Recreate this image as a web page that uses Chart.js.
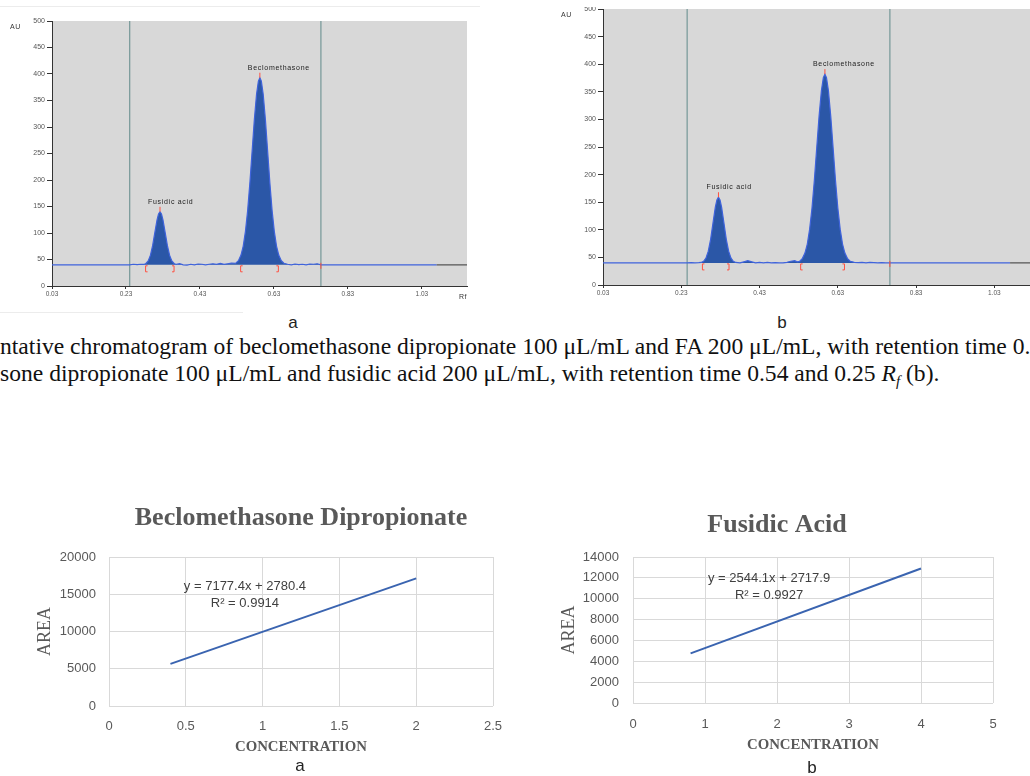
<!DOCTYPE html>
<html>
<head>
<meta charset="utf-8">
<script src="https://cdn.jsdelivr.net/npm/chart.js@4.4.1/dist/chart.umd.min.js"></script>
<style>
  body { margin: 0; width: 1030px; height: 776px; overflow: hidden; background: #fff; position: relative; font-family: "Liberation Sans", Arial, sans-serif; }
  .box { position: absolute; }
  .lbl { position: absolute; font-size: 17px; color: #222; transform: translate(-50%, -50%); }
  .cap { position: absolute; left: 0; white-space: nowrap; font-family: "Liberation Serif", "Times New Roman", serif; font-size: 23.6px; color: #111; transform: translateY(-50%); }
  .rule { position: absolute; height: 1px; background: #ececec; }
</style>
</head>
<body>
<div class="rule" style="left:0;top:6px;width:480px"></div>
<div class="rule" style="left:0;top:312px;width:243px"></div>

<div class="box" style="left:0;top:0;width:480px;height:305px"><canvas id="chromA"></canvas></div>
<div class="box" style="left:540px;top:7px;width:490px;height:298px;overflow:hidden">
  <div class="box" style="left:0;top:-7px;width:490px;height:305px"><canvas id="chromB"></canvas></div>
</div>

<div class="lbl" style="left:293px;top:323px">a</div>
<div class="lbl" style="left:782px;top:323px">b</div>
<div class="cap" style="top:346px">ntative chromatogram of beclomethasone dipropionate 100 μL/mL and FA 200 μL/mL, with retention time 0.54 and 0.25</div>
<div class="cap" style="top:375px">sone dipropionate 100 μL/mL and fusidic acid 200 μL/mL, with retention time 0.54 and 0.25 <i>R<sub style="font-size:15px">f</sub></i> (b).</div>

<div class="box" style="left:20px;top:490px;width:562px;height:268px"><canvas id="calA"></canvas></div>
<div class="box" style="left:540px;top:492px;width:474px;height:268px"><canvas id="calB"></canvas></div>

<div class="lbl" style="left:300px;top:766px">a</div>
<div class="lbl" style="left:812px;top:768px">b</div>

<script>
// chromatogram axes
const rfTicks = [0.03, 0.23, 0.43, 0.63, 0.83, 1.03];
const peakNames = ['Fusidic acid', 'Beclomethasone'];
const baselineAU = 40;

// chromatogram a
const rfA = [0.03, 0.24, 0.25, 0.26, 0.27,
  0.278, 0.284, 0.29, 0.296, 0.302, 0.308, 0.314, 0.318, 0.322, 0.326, 0.33, 0.336, 0.342, 0.348, 0.354, 0.36, 0.366,
  0.375, 0.385, 0.395, 0.405, 0.415, 0.425, 0.435, 0.445, 0.455, 0.465, 0.475, 0.485, 0.495, 0.505, 0.515,
  0.527, 0.534, 0.541, 0.547, 0.553, 0.559, 0.565, 0.571, 0.577, 0.583, 0.588, 0.592, 0.596, 0.601, 0.607, 0.613, 0.619, 0.625, 0.631, 0.637, 0.643, 0.65, 0.657,
  0.667, 0.677, 0.687, 0.697, 0.707, 0.717, 0.727, 0.737, 0.747, 0.757, 1.07, 1.16];
const auA = [40, 40, 41, 40.5, 41,
  40.7, 42.5, 47.3, 57.8, 76, 100.7, 124.9, 136, 140, 136, 124.9, 100.7, 76, 57.8, 47.3, 42.5, 40.7,
  42, 40, 39.5, 41, 40, 41.5, 41, 40, 41, 42, 41, 42.5, 41, 42, 43,
  42.9, 47.8, 58.4, 75.3, 103.2, 142.7, 194.6, 254.3, 313.6, 361.9, 386.6, 393, 386.6, 361.9, 313.6, 254.3, 194.6, 142.7, 103.2, 75.3, 58.4, 47.8, 42.9,
  41, 40, 41.5, 40.5, 41, 40, 41.5, 41, 42, 40, 40, 40];
const peakStartA = [0.283, 0.54];
const peakApexA = [0.322, 0.592];
const peakEndA = [0.36, 0.642];
const peakTopA = [140, 393];
const windowA = [0.24, 0.757];

// chromatogram b
const rfB = [0.03, 0.245, 0.255, 0.265, 0.275,
  0.281, 0.287, 0.293, 0.299, 0.305, 0.311, 0.317, 0.321, 0.325, 0.329, 0.333, 0.339, 0.345, 0.351, 0.357, 0.363, 0.369,
  0.38, 0.39, 0.4, 0.41, 0.42, 0.43, 0.44, 0.45, 0.46, 0.47, 0.48, 0.49, 0.5, 0.51, 0.52, 0.526,
  0.532, 0.539, 0.546, 0.552, 0.558, 0.564, 0.57, 0.576, 0.582, 0.588, 0.593, 0.597, 0.601, 0.606, 0.612, 0.618, 0.624, 0.63, 0.636, 0.642, 0.648, 0.655, 0.662,
  0.672, 0.682, 0.692, 0.702, 0.712, 0.722, 0.732, 0.742, 0.752, 0.763, 1.07, 1.16];
const auB = [40, 40, 40.5, 40, 40.5,
  40.9, 43, 48.7, 61.2, 82.8, 112.2, 141, 154.2, 159, 154.2, 141, 112.2, 82.8, 61.2, 48.7, 43, 40.9,
  40, 42, 44, 42, 40, 41, 40, 41, 40, 40.5, 40, 40, 41, 43, 44, 42,
  42.8, 47.5, 57.8, 74.2, 101.2, 139.5, 189.8, 247.6, 305, 351.9, 375.8, 382, 375.8, 351.9, 305, 247.6, 189.8, 139.5, 101.2, 74.2, 57.8, 47.5, 42.8,
  41, 40.5, 41, 40, 41, 40.5, 40, 40.5, 40, 40, 40, 40];
const peakStartB = [0.284, 0.535];
const peakApexB = [0.325, 0.597];
const peakEndB = [0.352, 0.647];
const peakTopB = [159, 382];
const windowB = [0.245, 0.763];

// calibration curves (trendline ends)
const concA = [0.4, 2];
const areaA = [5651, 17135];
const eqA = ['y = 7177.4x + 2780.4', 'R² = 0.9914'];
const concB = [0.8, 4];
const areaB = [4753, 12894];
const eqB = ['y = 2544.1x + 2717.9', 'R² = 0.9927'];

const chromPlugin = {
  id: 'chrom',
  beforeDraw(chart, args, o) {
    const { ctx, chartArea: a } = chart;
    ctx.save();
    ctx.fillStyle = '#d8d8d8';
    ctx.fillRect(a.left, a.top, a.right - a.left, a.bottom - a.top);
    ctx.restore();
  },
  beforeDatasetsDraw(chart, args, o) {
    const { ctx, chartArea: a, scales: { x } } = chart;
    ctx.save();
    ctx.strokeStyle = '#7c9c9c';
    ctx.lineWidth = 1.3;
    o.windows.forEach(v => {
      const px = x.getPixelForValue(v);
      ctx.beginPath();
      ctx.moveTo(px, a.top);
      ctx.lineTo(px, a.bottom);
      ctx.stroke();
    });
    ctx.restore();
  },
  afterDatasetsDraw(chart, args, o) {
    const { ctx, scales: { x, y } } = chart;
    const y0 = y.getPixelForValue(baselineAU);
    ctx.save();
    ctx.strokeStyle = '#ff5040';
    ctx.lineWidth = 1;
    o.starts.forEach((s, i) => {
      const xs = x.getPixelForValue(s);
      const xe = x.getPixelForValue(o.ends[i]);
      ctx.beginPath();
      ctx.moveTo(xs + 2, y0 + 1); ctx.lineTo(xs, y0 + 1); ctx.lineTo(xs, y0 + 7); ctx.lineTo(xs + 2, y0 + 7);
      ctx.moveTo(xe - 2, y0 + 1); ctx.lineTo(xe, y0 + 1); ctx.lineTo(xe, y0 + 7); ctx.lineTo(xe - 2, y0 + 7);
      ctx.stroke();
      const xa = x.getPixelForValue(o.apexes[i]);
      const ya = y.getPixelForValue(o.tops[i]);
      ctx.beginPath();
      ctx.moveTo(xa, ya);
      ctx.lineTo(xa, ya - 5);
      ctx.stroke();
      ctx.fillStyle = '#222';
      ctx.font = '7px "Liberation Sans"';
      ctx.letterSpacing = '0.7px';
      ctx.textBaseline = 'middle';
      ctx.textAlign = 'left';
      ctx.fillText(peakNames[i], xa - 12, ya - 10);
    });
    // end-of-window tick
    const xw = x.getPixelForValue(o.windows[1]);
    ctx.beginPath(); ctx.moveTo(xw, y0 - 2); ctx.lineTo(xw, y0 + 4); ctx.stroke();
    ctx.restore();
  },
  afterDraw(chart, args, o) {
    const { ctx } = chart;
    ctx.save();
    ctx.fillStyle = '#333';
    ctx.font = '7px "Liberation Sans"';
    ctx.letterSpacing = '0.5px';
    ctx.textBaseline = 'middle';
    ctx.fillText('AU', o.auPos[0], o.auPos[1]);
    if (o.rfPos) ctx.fillText('Rf', o.rfPos[0], o.rfPos[1]);
    ctx.restore();
  }
};

function chromatogram(id, rf, au, marks, g) {
  new Chart(document.getElementById(id), {
    type: 'line',
    data: {
      datasets: [{
        data: rf.map((v, i) => ({ x: v, y: au[i] })),
        borderColor: '#3f63dc',
        borderWidth: 1.2,
        backgroundColor: '#2b57a7',
        fill: { value: baselineAU },
        pointRadius: 0,
        tension: 0,
        segment: { borderColor: c => c.p0.parsed.x >= 1.069 ? '#555' : '#3f63dc' }
      }]
    },
    options: {
      responsive: true,
      maintainAspectRatio: false,
      animation: false,
      layout: { padding: { top: g.top, right: g.right, left: 0, bottom: 0 } },
      plugins: { legend: { display: false }, tooltip: { enabled: false }, chrom: marks },
      scales: {
        x: {
          type: 'linear', min: 0.03, max: g.xMax,
          afterBuildTicks: s => { s.ticks = rfTicks.map(v => ({ value: v })); },
          afterFit: s => { s.height = g.xH; },
          grid: { drawOnChartArea: false, drawTicks: true, tickLength: 3, color: '#333' },
          border: { color: '#333' },
          ticks: { padding: 1, color: '#555', font: { size: 6.5 }, maxRotation: 0, autoSkip: false, callback: v => v.toFixed(2) }
        },
        y: {
          min: 0, max: 500,
          afterFit: s => { s.width = g.yW; },
          grid: { drawOnChartArea: false, drawTicks: true, tickLength: 5, color: '#333' },
          border: { color: '#333' },
          ticks: { stepSize: 50, padding: 2, color: '#555', font: { size: 7 } }
        }
      }
    },
    plugins: [chromPlugin]
  });
}

chromatogram('chromA', rfA, auA,
  { starts: peakStartA, apexes: peakApexA, ends: peakEndA, tops: peakTopA, windows: windowA, auPos: [10, 27], rfPos: [459, 297] },
  { top: 21, right: 13, xH: 19, yW: 52, xMax: 1.152 });
chromatogram('chromB', rfB, auB,
  { starts: peakStartB, apexes: peakApexB, ends: peakEndB, tops: peakTopB, windows: windowB, auPos: [21, 15], rfPos: null },
  { top: 9, right: 0, xH: 20, yW: 63, xMax: 1.121 });

const eqPlugin = {
  id: 'eq',
  afterDatasetsDraw(chart, args, o) {
    const { ctx, scales: { x, y } } = chart;
    ctx.save();
    ctx.fillStyle = '#404040';
    ctx.font = '13px "Liberation Sans"';
    ctx.textAlign = 'center';
    ctx.textBaseline = 'middle';
    o.lines.forEach((t, i) => ctx.fillText(t, x.getPixelForValue(o.at[0]), y.getPixelForValue(o.at[1]) + i * 17));
    ctx.restore();
  }
};

function calibration(id, conc, area, g) {
  new Chart(document.getElementById(id), {
    type: 'line',
    data: {
      datasets: [{
        data: conc.map((c, i) => ({ x: c, y: area[i] })),
        borderColor: '#3a64b0',
        borderWidth: 2,
        pointRadius: 0,
        tension: 0,
        fill: false
      }]
    },
    options: {
      responsive: true,
      maintainAspectRatio: false,
      animation: false,
      layout: { padding: 0 },
      plugins: {
        legend: { display: false },
        tooltip: { enabled: false },
        title: {
          display: true, text: g.title, color: '#595959',
          font: { family: '"Liberation Serif"', size: 26, weight: 'bold', lineHeight: 1.2 },
          padding: { top: g.tTop, bottom: g.tBot }
        },
        eq: { lines: g.eq, at: g.eqAt }
      },
      scales: {
        x: {
          type: 'linear', min: 0, max: g.xMax,
          afterFit: s => { s.height = g.xH; },
          grid: { color: '#d9d9d9', drawTicks: false },
          border: { display: false },
          ticks: { stepSize: g.xStep, padding: g.xPad, color: '#595959', font: { size: 13 }, callback: v => String(v) },
          title: { display: true, text: 'CONCENTRATION', color: '#595959', font: { family: '"Liberation Serif"', size: 14.8, weight: 'bold', lineHeight: 1.2 }, padding: { top: 0, bottom: g.cBot } }
        },
        y: {
          min: 0, max: g.yMax,
          afterFit: s => { s.width = g.yW; },
          grid: { color: '#d9d9d9', drawTicks: false },
          border: { display: false },
          ticks: { stepSize: g.yStep, padding: g.yPad, color: '#595959', font: { size: 13 }, callback: v => String(v) },
          title: { display: true, text: 'AREA', color: '#595959', font: { family: '"Liberation Serif"', size: 18, lineHeight: 1.2 }, padding: { top: g.aTop, bottom: 0 } }
        },
        // empty right-hand strip so the chart title stays centred on the whole figure
        spacer: {
          position: 'right', display: true,
          afterFit: s => { s.width = g.right; },
          grid: { display: false }, ticks: { display: false }, border: { display: false }
        }
      }
    },
    plugins: [eqPlugin]
  });
}

calibration('calA', concA, areaA, {
  title: 'Beclomethasone Dipropionate', eq: eqA, eqAt: [0.885, 16100],
  xMax: 2.5, xStep: 0.5, yMax: 20000, yStep: 5000,
  right: 89, yW: 89, xH: 52, tTop: 12.4, tBot: 23.4, xPad: 13, yPad: 13, cBot: 1.6, aTop: 14.2
});
calibration('calB', concB, areaB, {
  title: 'Fusidic Acid', eq: eqB, eqAt: [1.89, 11990],
  xMax: 5, xStep: 1, yMax: 14000, yStep: 2000,
  right: 21, yW: 93, xH: 57, tTop: 17.4, tBot: 16.4, xPad: 14, yPad: 14, cBot: 5.6, aTop: 18.2
});
</script>
</body>
</html>
